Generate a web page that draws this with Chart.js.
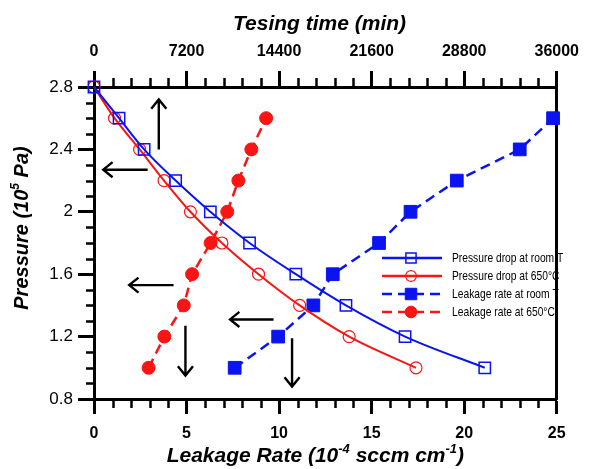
<!DOCTYPE html>
<html>
<head>
<meta charset="utf-8">
<script src="https://cdn.jsdelivr.net/npm/chart.js@4"></script>
<style>
  html, body { margin: 0; padding: 0; background: #fff; }
  canvas { display: block; }
</style>
</head>
<body>
<canvas id="myChart" width="589" height="469"></canvas>
<script>
// pressure drop curves: pressure (10^5 Pa) against testing time (min)
const dropPressure = [2.8, 2.6, 2.4, 2.2, 2.0, 1.8, 1.6, 1.4, 1.2, 1.0];
const dropTimeRoom = [0, 1950, 3900, 6350, 9050, 12100, 15700, 19600, 24200, 30400];
const dropTime650 = [0, 1600, 3550, 5450, 7500, 9950, 12800, 16000, 19850, 25050];

// leakage rate (10^-4 sccm/cm) at each pressure
const leakPressure = [1.0, 1.2, 1.4, 1.6, 1.8, 2.0, 2.2, 2.4, 2.6];
const leakRoom = [7.6, 9.95, 11.85, 12.9, 15.4, 17.1, 19.6, 23.0, 24.8];
const leak650 = [2.95, 3.8, 4.85, 5.3, 6.3, 7.2, 7.8, 8.5, 9.3];

const seriesNames = ["Pressure drop at room T", "Pressure drop at 650\u00B0C",
                     "Leakage rate at room T", "Leakage rate at 650\u00B0C"];

const leakTicks = [0, 5, 10, 15, 20, 25];
const timeTicks = [0, 7200, 14400, 21600, 28800, 36000];
const pressureTicks = [0.8, 1.2, 1.6, 2, 2.4, 2.8];

// axis titles, split where the superscripts go
const leakTitle = [["Leakage Rate (10"], ["-4", 1], [" sccm cm"], ["-1", 1], [")"]];
const pressureTitle = [["Pressure (10"], ["5", 1], [" Pa)"]];

// arrows pointing to the axis each curve belongs to: [x1, y1, x2, y2] in leakage / pressure units
const arrows = [
  [3.5, 2.4, 3.5, 2.72],
  [2.9, 2.27, 0.5, 2.27],
  [4.3, 1.53, 1.9, 1.53],
  [4.94, 1.27, 4.94, 0.95],
  [9.7, 1.31, 7.35, 1.31],
  [10.7, 1.19, 10.7, 0.88]
];

const BLUE = "rgb(10,20,240)";
const RED = "rgb(250,20,20)";
const FAMILY = "'Liberation Sans', Arial, sans-serif";

function pairs(xs, ys) {
  return xs.map((x, i) => ({ x: x, y: ys[i] }));
}

function markerPath(ctx, style, r, x, y) {
  ctx.beginPath();
  if (style === "rect") {
    const s = r * Math.SQRT1_2;
    ctx.rect(x - s, y - s, 2 * s, 2 * s);
  } else {
    ctx.arc(x, y, r, 0, Math.PI * 2);
  }
}

function drawArrow(ctx, x1, y1, x2, y2) {
  const ang = Math.atan2(y2 - y1, x2 - x1);
  const h = 12, w = 0.68;
  ctx.beginPath();
  ctx.moveTo(x1, y1);
  ctx.lineTo(x2, y2);
  ctx.moveTo(x2 - h * Math.cos(ang - w), y2 - h * Math.sin(ang - w));
  ctx.lineTo(x2, y2);
  ctx.lineTo(x2 - h * Math.cos(ang + w), y2 - h * Math.sin(ang + w));
  ctx.stroke();
}

// text with superscript parts, centred on (0, 0) of the current transform
function drawRich(ctx, parts, size) {
  const big = "italic bold " + size + "px " + FAMILY;
  const small = "italic bold " + Math.round(size * 0.6) + "px " + FAMILY;
  let total = 0;
  parts.forEach(p => { ctx.font = p[1] ? small : big; total += ctx.measureText(p[0]).width; });
  let cx = -total / 2;
  ctx.textBaseline = "middle";
  ctx.textAlign = "left";
  parts.forEach(p => {
    ctx.font = p[1] ? small : big;
    ctx.fillText(p[0], cx, p[1] ? -size * 0.32 : 0);
    cx += ctx.measureText(p[0]).width;
  });
}

const extras = {
  id: "extras",
  afterDraw(chart) {
    const ctx = chart.ctx;
    const { x, x2, y } = chart.scales;
    const area = chart.chartArea;
    ctx.save();
    ctx.strokeStyle = "#000";
    ctx.lineCap = "butt";

    // minor ticks
    ctx.lineWidth = 2.5;
    ctx.beginPath();
    for (let v = 1; v < 25; v++) {
      if (v % 5 === 0) continue;
      const px = Math.round(x.getPixelForValue(v)) + 0.5;
      ctx.moveTo(px, area.bottom);
      ctx.lineTo(px, area.bottom + 9);
    }
    for (let v = 1; v < 25; v++) {
      if (v % 5 === 0) continue;
      const px = Math.round(x2.getPixelForValue(v * 1440)) + 0.5;
      ctx.moveTo(px, area.top);
      ctx.lineTo(px, area.top - 9);
    }
    for (let k = 9; k < 28; k++) {
      if ((k - 8) % 4 === 0) continue;
      const py = Math.round(y.getPixelForValue(k / 10)) + 0.5;
      ctx.moveTo(area.left, py);
      ctx.lineTo(area.left - 8, py);
    }
    ctx.stroke();

    // arrows
    ctx.lineWidth = 2.4;
    arrows.forEach(a => {
      drawArrow(ctx, x.getPixelForValue(a[0]), y.getPixelForValue(a[1]),
                x.getPixelForValue(a[2]), y.getPixelForValue(a[3]));
    });

    // axis titles with superscripts
    ctx.fillStyle = "#000";
    ctx.save();
    ctx.translate((area.left + area.right) / 2 - 10, 456);
    drawRich(ctx, leakTitle, 21);
    ctx.restore();
    ctx.save();
    ctx.translate(22, (area.top + area.bottom) / 2 - 15);
    ctx.rotate(-Math.PI / 2);
    drawRich(ctx, pressureTitle, 20);
    ctx.restore();

    // legend inside the plot
    chart.data.datasets.forEach((ds, i) => {
      const ly = 258 + i * 18;
      ctx.strokeStyle = ds.borderColor;
      ctx.lineWidth = 2.5;
      ctx.setLineDash(ds.borderDash || []);
      ctx.beginPath();
      ctx.moveTo(382, ly);
      ctx.lineTo(442, ly);
      ctx.stroke();
      ctx.setLineDash([]);
      ctx.lineWidth = ds.pointBorderWidth;
      ctx.fillStyle = ds.pointBackgroundColor;
      markerPath(ctx, ds.pointStyle, ds.pointRadius * 0.9, 411, ly);
      ctx.fill();
      ctx.stroke();
      ctx.save();
      ctx.fillStyle = "#000";
      ctx.font = "13px " + FAMILY;
      ctx.textBaseline = "middle";
      ctx.textAlign = "left";
      ctx.translate(452, ly);
      ctx.scale(0.79, 1);
      ctx.fillText(ds.label, 0, 0);
      ctx.restore();
    });
    ctx.restore();
  }
};

Chart.defaults.font.family = FAMILY;
Chart.defaults.color = "#000";

const nb = "\u00A0";

var myChart = new Chart(document.getElementById("myChart"), {
  type: "scatter",
  data: {
    datasets: [{
      label: seriesNames[0],
      data: pairs(dropTimeRoom, dropPressure),
      xAxisID: "x2",
      showLine: true,
      cubicInterpolationMode: "monotone",
      borderColor: BLUE,
      borderWidth: 2,
      pointStyle: "rect",
      pointRadius: 8,
      pointBorderWidth: 1.5,
      pointBorderColor: BLUE,
      pointBackgroundColor: "rgba(0,0,0,0)",
      clip: false
    }, {
      label: seriesNames[1],
      data: pairs(dropTime650, dropPressure),
      xAxisID: "x2",
      showLine: true,
      cubicInterpolationMode: "monotone",
      borderColor: RED,
      borderWidth: 2,
      pointStyle: "circle",
      pointRadius: 6,
      pointBorderWidth: 1.2,
      pointBorderColor: RED,
      pointBackgroundColor: "rgba(0,0,0,0)",
      clip: false
    }, {
      label: seriesNames[2],
      data: pairs(leakRoom, leakPressure),
      xAxisID: "x",
      showLine: true,
      borderColor: BLUE,
      borderWidth: 2.5,
      borderDash: [10, 6],
      pointStyle: "rect",
      pointRadius: 9,
      pointBorderWidth: 1,
      pointBorderColor: BLUE,
      pointBackgroundColor: BLUE,
      clip: false
    }, {
      label: seriesNames[3],
      data: pairs(leak650, leakPressure),
      xAxisID: "x",
      showLine: true,
      borderColor: RED,
      borderWidth: 2.5,
      borderDash: [10, 6],
      pointStyle: "circle",
      pointRadius: 6.5,
      pointBorderWidth: 1,
      pointBorderColor: RED,
      pointBackgroundColor: RED,
      clip: false
    }]
  },
  options: {
    responsive: false,
    animation: false,
    layout: { padding: 0 },
    plugins: { legend: { display: false }, tooltip: { enabled: false } },
    scales: {
      x: {
        type: "linear", position: "bottom", min: 0, max: 25,
        afterBuildTicks: s => { s.ticks = leakTicks.map(v => ({ value: v })); },
        afterFit: s => { s.height = 70; },
        grid: { drawOnChartArea: false, tickLength: 15, tickWidth: 3, tickColor: "#000" },
        border: { color: "#000", width: 3 },
        ticks: { font: { size: 16, weight: "bold" }, padding: 10, maxRotation: 0, autoSkip: false,
                 callback: v => String(v) }
      },
      x2: {
        type: "linear", position: "top", min: 0, max: 36000,
        afterBuildTicks: s => { s.ticks = timeTicks.map(v => ({ value: v })); },
        afterFit: s => { s.height = 87; },
        grid: { drawOnChartArea: false, tickLength: 16, tickWidth: 3, tickColor: "#000" },
        border: { color: "#000", width: 3 },
        ticks: { font: { size: 16, weight: "bold" }, padding: 10, maxRotation: 0, autoSkip: false,
                 callback: v => String(v) },
        title: { display: true, text: "Tesing time (min)" + nb + nb,
                 font: { size: 21, weight: "bold", style: "italic" },
                 padding: { top: 12, bottom: 0 } }
      },
      y: {
        type: "linear", position: "left", min: 0.8, max: 2.8,
        afterBuildTicks: s => { s.ticks = pressureTicks.map(v => ({ value: v })); },
        afterFit: s => { s.width = 94; },
        grid: { drawOnChartArea: false, tickLength: 16, tickWidth: 3, tickColor: "#000" },
        border: { color: "#000", width: 3 },
        ticks: { font: { size: 17 }, padding: 5, callback: v => String(+v.toFixed(1)) }
      },
      yR: {
        type: "linear", position: "right", min: 0.8, max: 2.8,
        afterFit: s => { s.width = 26; },
        grid: { drawOnChartArea: false, drawTicks: false },
        border: { color: "#000", width: 3 },
        ticks: { display: false }
      }
    }
  },
  plugins: [extras]
});
</script>
</body>
</html>
